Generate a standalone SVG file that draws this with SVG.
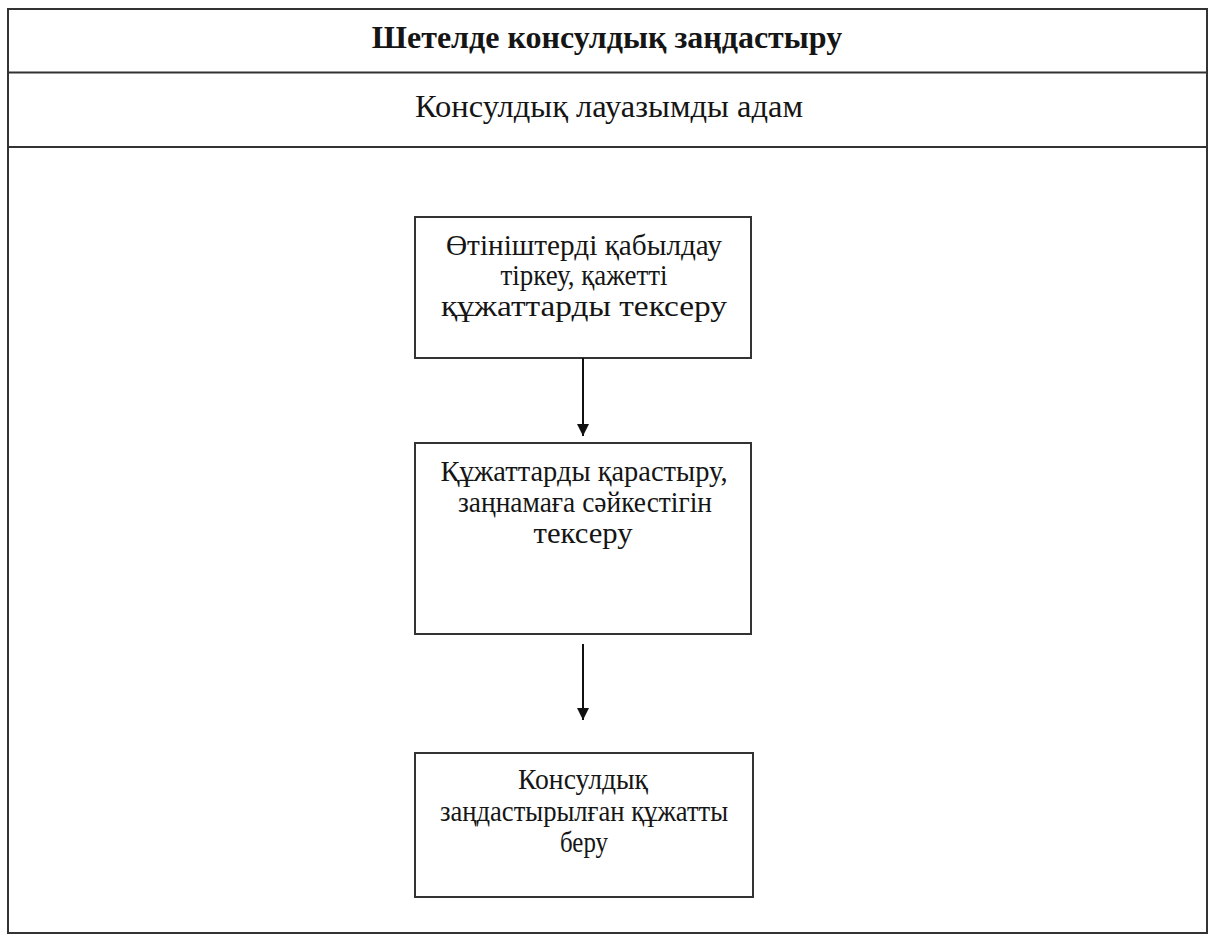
<svg xmlns="http://www.w3.org/2000/svg" width="1217" height="936" viewBox="0 0 1217 936">
<defs>
<style>
.ln{fill:none;stroke:#333;stroke-width:2}
.bx{fill:#fff;stroke:#333;stroke-width:2}
.t{font-family:"Liberation Serif","Times New Roman",serif;font-size:32.5px;fill:#151515;text-anchor:middle}
.b{font-size:30px}
.h{font-weight:bold;font-size:32px}
.c{stroke:#111;stroke-width:2;fill:none}
</style>
<marker id="ar" viewBox="0 0 10 10" refX="10" refY="5" markerWidth="6" markerHeight="6" markerUnits="strokeWidth" orient="auto">
<path d="M0,0 L10,5 L0,10 z" fill="#111"/>
</marker>
</defs>
<rect width="1217" height="936" fill="#fff"/>
<g id="frame">
<rect class="ln" x="8" y="9" width="1199" height="924"/>
<line class="ln" x1="8" y1="72.5" x2="1207" y2="72.5"/>
<line class="ln" x1="8" y1="147" x2="1207" y2="147"/>
<text class="t h" x="607" y="48">Шетелде консулдық заңдастыру</text>
<text class="t" x="609" y="117">Консулдық лауазымды адам</text>
</g>
<g id="n1">
<rect class="bx" x="415" y="217" width="336" height="141"/>
<text class="t b" x="584" y="255" textLength="276" lengthAdjust="spacingAndGlyphs">Өтініштерді қабылдау</text>
<text class="t b" x="584" y="285" textLength="167" lengthAdjust="spacingAndGlyphs">тіркеу, қажетті</text>
<text class="t b" x="584" y="316" textLength="286" lengthAdjust="spacingAndGlyphs">құжаттарды тексеру</text>
</g>
<g id="n2">
<rect class="bx" x="415" y="443" width="336" height="191"/>
<text class="t b" x="584" y="481" textLength="287" lengthAdjust="spacingAndGlyphs">Құжаттарды қарастыру,</text>
<text class="t b" x="585" y="512" textLength="254" lengthAdjust="spacingAndGlyphs">заңнамаға сәйкестігін</text>
<text class="t b" x="583" y="543" textLength="99" lengthAdjust="spacingAndGlyphs">тексеру</text>
</g>
<g id="n3">
<rect class="bx" x="415" y="753" width="338" height="144"/>
<text class="t b" x="583" y="789" textLength="130" lengthAdjust="spacingAndGlyphs">Консулдық</text>
<text class="t b" x="584" y="821" textLength="288" lengthAdjust="spacingAndGlyphs">заңдастырылған құжатты</text>
<text class="t b" x="584" y="852" textLength="48" lengthAdjust="spacingAndGlyphs">беру</text>
</g>
<g id="connectors">
<line class="c" x1="583" y1="358" x2="583" y2="436" marker-end="url(#ar)"/>
<line class="c" x1="583" y1="644" x2="583" y2="720" marker-end="url(#ar)"/>
</g>
</svg>
